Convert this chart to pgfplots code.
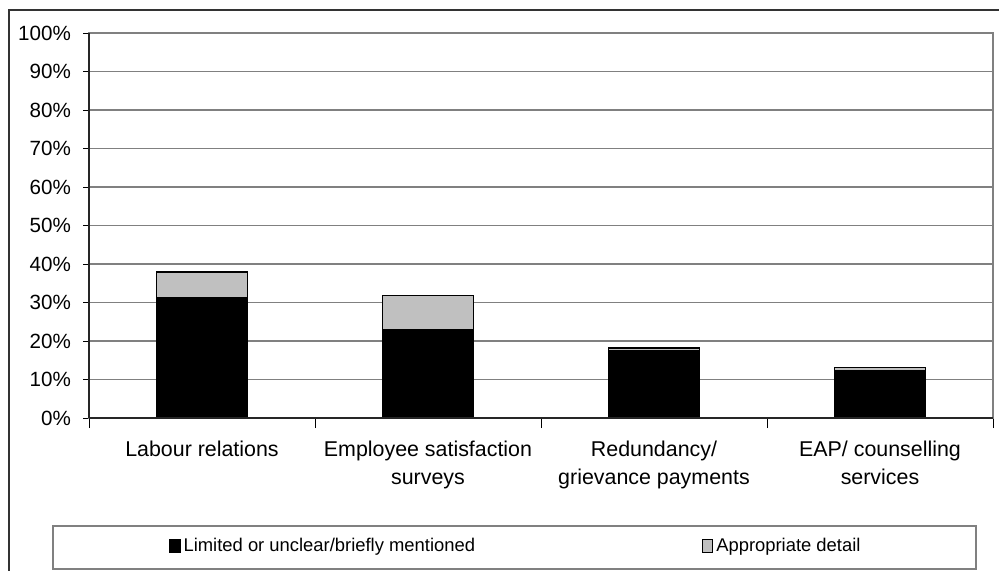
\documentclass[border=0pt]{standalone}
\usepackage{pgfplots}
\pgfplotsset{compat=1.18}
\usepackage{fontspec}
\setmainfont{Liberation Sans}
\definecolor{barblack}{RGB}{0,0,0}
\definecolor{bargray}{RGB}{192,192,192}
\definecolor{gridgray}{RGB}{128,128,128}

\begin{document}
\begin{tikzpicture}
\useasboundingbox (0,0) rectangle (499.5pt,285pt);
% outer chart frame
\draw[black!80, line width=0.9pt] (4.5pt,-5pt) -- (4.5pt,280pt) -- (510pt,280pt);
% legend frame
\draw[gridgray, line width=0.6pt] (26.5pt,0.5pt) rectangle (488pt,22pt);
\begin{axis}[
  at={(44.5pt,76pt)}, anchor=south west,
  scale only axis, width=452pt, height=192.5pt,
  ybar stacked, bar width=45.2pt,
  xmin=-0.5, xmax=3.5, ymin=0, ymax=100,
  xtick={0,1,2,3},
  xticklabels={Labour relations,Employee satisfaction\\surveys,Redundancy/\\grievance payments,EAP/ counselling\\services},
  xtick pos=bottom, ytick pos=left,
  major x tick style={draw=none},
  minor xtick={-0.5,0.5,1.5,2.5,3.5},
  minor x tick style={black, line width=0.5pt},
  minor tick length=5pt,
  ytick={0,10,...,100},
  yticklabel={\pgfmathprintnumber{\tick}\%},
  /pgf/number format/assume math mode=true,
  tick align=outside,
  major tick length=3pt,
  y tick style={black, line width=0.5pt},
  ymajorgrids, major grid style={gridgray, line width=0.6pt},
  axis line style={gridgray, line width=0.6pt},
  yticklabel style={font=\fontsize{10.3}{12}\selectfont, xshift=-2.5pt},
  xticklabel style={font=\fontsize{10.7}{14}\selectfont, align=center, yshift=-5pt, anchor=north},
  legend style={at={(0.0885,-0.3325)}, anchor=west, draw=none, fill=none,
    inner sep=0pt, font=\fontsize{9.2}{11}\selectfont,
    /tikz/every even column/.append style={column sep=112pt},
    nodes={inner xsep=1.5pt}},
  legend columns=2,
  legend image code/.code={\draw[#1] (0pt,-3.25pt) rectangle (5pt,3.25pt);},
]
\addplot[fill=barblack, draw=black, line width=0.6pt] coordinates {(0,31.3) (1,23.0) (2,17.5) (3,12.4)};
\addplot[fill=bargray, draw=black, line width=0.6pt] coordinates {(0,6.6) (1,8.8) (2,0.7) (3,0.7)};
\legend{Limited or unclear/briefly mentioned, Appropriate detail}
\end{axis}
\begin{axis}[
  at={(44.5pt,76pt)}, anchor=south west,
  scale only axis, width=452pt, height=192.5pt,
  xmin=-0.5, xmax=3.5, ymin=0, ymax=100,
  axis x line*=bottom, axis y line*=left,
  axis line style={black!85, line width=0.7pt},
  xtick=\empty, ytick=\empty,
]
\end{axis}
\end{tikzpicture}
\end{document}
